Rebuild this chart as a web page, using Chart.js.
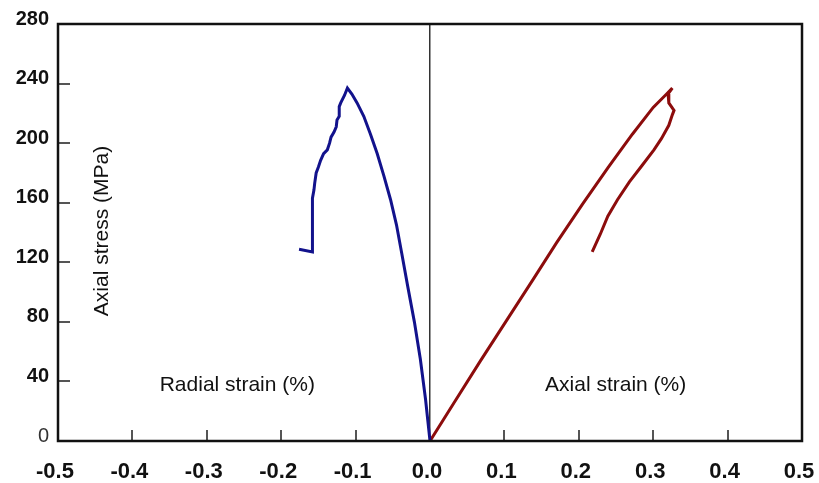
<!DOCTYPE html>
<html lang="en">
<head>
    <meta charset="UTF-8">
    <title>Axial stress vs strain</title>
    <script src="https://cdn.jsdelivr.net/npm/chart.js"></script>
    <style>
        body { margin: 0; background: #fff; }
        canvas { display: block; }
    </style>
</head>
<body>
    <canvas id="stressChart" width="819" height="483"></canvas>

    <script>
        // radial strain branch (left, blue)
        const radialStrain = [0, -0.006, -0.013, -0.021, -0.030, -0.038, -0.045, -0.053, -0.062, -0.071, -0.080, -0.089, -0.098, -0.105, -0.111,
                              -0.115, -0.120, -0.122, -0.122, -0.125, -0.126, -0.129, -0.133, -0.135, -0.138, -0.143, -0.147, -0.150, -0.153, -0.155, -0.156, -0.158, -0.158, -0.176];
        const radialStress = [0, 28, 55, 80, 104, 126, 145, 162, 178, 193, 206, 218, 227, 233, 237,
                              232, 227, 224.5, 218, 215.5, 211, 207.5, 204, 200, 195.5, 193, 188.5, 184, 180, 173, 168.5, 163, 127, 128.7];

        // axial strain branch (right, red)
        const axialStrain = [0, 0.034, 0.068, 0.103, 0.138, 0.170, 0.205, 0.240, 0.272, 0.300, 0.318, 0.3257,
                             0.320, 0.321, 0.328, 0.3257, 0.321, 0.311, 0.301, 0.285, 0.268, 0.252, 0.239, 0.229, 0.218];
        const axialStress = [0, 27, 54, 81, 108, 133, 159, 184, 206, 224, 233, 237,
                             233, 227, 222, 219, 212, 203, 195.5, 185, 174, 162, 151, 139, 127];

        const xTicks = [-0.5, -0.4, -0.3, -0.2, -0.1, 0.0, 0.1, 0.2, 0.3, 0.4, 0.5];
        const yTicks = [0, 40, 80, 120, 160, 200, 240, 280];

        function toPoints(xs, ys) {
            return xs.map((x, i) => ({ x: x, y: ys[i] }));
        }

        const isZero = c => !!(c.tick && c.tick.value === 0);

        // frame, inside tick marks and the text labels inside the plot
        const decorations = {
            id: 'decorations',
            afterDatasetsDraw(chart) {
                const ctx = chart.ctx;
                const a = chart.chartArea;
                const xs = chart.scales.x, ys = chart.scales.y;
                ctx.save();
                ctx.strokeStyle = '#555';
                ctx.lineWidth = 2;
                ctx.beginPath();
                xTicks.slice(1, -1).forEach(v => {
                    if (v === 0) return;
                    const px = Math.round(xs.getPixelForValue(v));
                    ctx.moveTo(px, a.bottom);
                    ctx.lineTo(px, a.bottom - 11);
                });
                yTicks.slice(1, -1).forEach(v => {
                    const py = Math.round(ys.getPixelForValue(v));
                    ctx.moveTo(a.left, py);
                    ctx.lineTo(a.left + 12, py);
                });
                ctx.stroke();

                ctx.strokeStyle = '#111';
                ctx.lineWidth = 2.5;
                ctx.strokeRect(a.left, a.top, a.right - a.left, a.bottom - a.top);

                ctx.fillStyle = '#111';
                ctx.font = '21px "Liberation Sans", Arial, sans-serif';
                ctx.textAlign = 'center';
                ctx.textBaseline = 'middle';
                ctx.fillText('Radial strain (%)', xs.getPixelForValue(-0.259), ys.getPixelForValue(37.6));
                ctx.fillText('Axial strain (%)', xs.getPixelForValue(0.2495), ys.getPixelForValue(37.6));

                ctx.translate(xs.getPixelForValue(-0.4405), ys.getPixelForValue(141));
                ctx.rotate(-Math.PI / 2);
                ctx.fillText('Axial stress (MPa)', 0, 0);
                ctx.restore();
            }
        };

        new Chart(document.getElementById('stressChart'), {
            type: 'scatter',
            data: {
                datasets: [
                    {
                        label: 'Radial strain',
                        data: toPoints(radialStrain, radialStress),
                        showLine: true,
                        borderColor: '#12128c',
                        borderWidth: 3,
                        pointRadius: 0,
                        tension: 0
                    },
                    {
                        label: 'Axial strain',
                        data: toPoints(axialStrain, axialStress),
                        showLine: true,
                        borderColor: '#8c0c0c',
                        borderWidth: 3,
                        pointRadius: 0,
                        tension: 0
                    }
                ]
            },
            options: {
                responsive: false,
                animation: false,
                layout: { padding: { top: 24, right: 17, left: 0, bottom: 0 } },
                plugins: {
                    legend: { display: false },
                    tooltip: { enabled: false }
                },
                scales: {
                    x: {
                        type: 'linear',
                        min: -0.5,
                        max: 0.5,
                        afterBuildTicks: s => { s.ticks = xTicks.map(v => ({ value: v })); },
                        afterFit: s => { s.height = 42; s.paddingLeft = 0; s.paddingRight = 0; },
                        border: { display: false },
                        grid: {
                            drawTicks: false,
                            lineWidth: 1.5,
                            color: c => isZero(c) ? '#333' : 'rgba(0,0,0,0)'
                        },
                        ticks: {
                            padding: 18,
                            labelOffset: -3,
                            color: '#111',
                            maxRotation: 0,
                            font: { family: '"Liberation Sans", Arial', size: 22, weight: 'bold' },
                            callback: v => v.toFixed(1)
                        }
                    },
                    y: {
                        type: 'linear',
                        min: 0,
                        max: 280,
                        afterBuildTicks: s => { s.ticks = yTicks.map(v => ({ value: v })); },
                        afterFit: s => { s.width = 58; s.paddingTop = 0; s.paddingBottom = 0; },
                        border: { display: false },
                        grid: { display: false, drawTicks: false },
                        ticks: {
                            padding: 9,
                            labelOffset: -5,
                            color: c => isZero(c) ? '#333' : '#111',
                            font: c => ({
                                family: '"Liberation Sans", Arial',
                                size: 20,
                                weight: isZero(c) ? 'normal' : 'bold'
                            })
                        }
                    }
                }
            },
            plugins: [decorations]
        });
    </script>
</body>
</html>
